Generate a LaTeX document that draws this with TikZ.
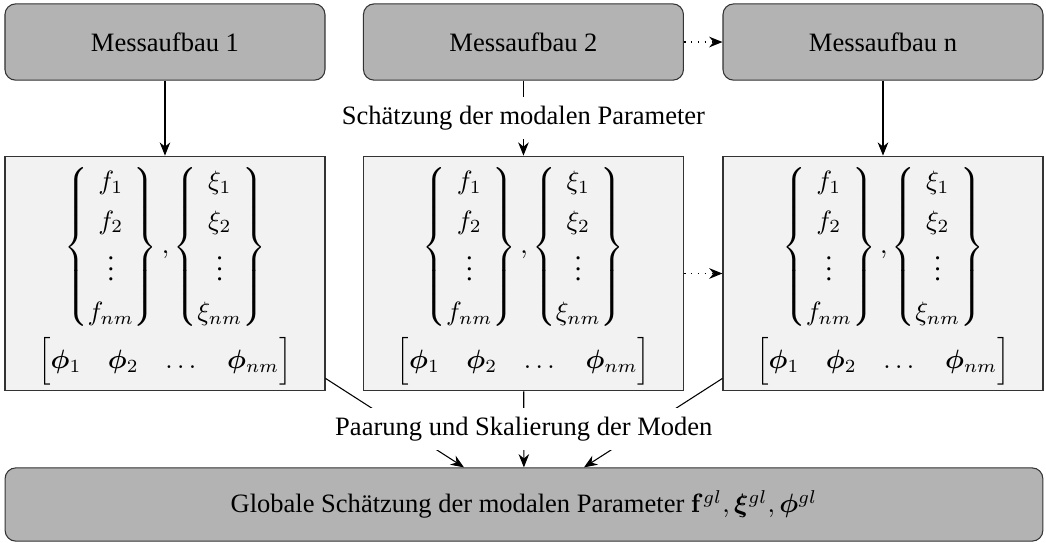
\documentclass[tikz,border=0pt]{standalone}
\usepackage{amsmath}
\usepackage{bm}
\usepackage[no-math]{fontspec}
\setmainfont{Liberation Serif}
\usepackage{tikz}
\usetikzlibrary{arrows.meta, positioning, calc}
\definecolor{setupgray}{RGB}{179, 179, 179}
\definecolor{resultgray}{RGB}{242, 242, 242}

\tikzset{
    setupbox/.style={draw=black!80, fill=setupgray, rounded corners=4pt,
        minimum width=4.24cm, minimum height=1.01cm, inner sep=0pt},
    resultbox/.style={draw=black!80, fill=resultgray,
        minimum width=4.24cm, minimum height=3.11cm, inner sep=0pt, align=center},
    globalbox/.style={draw=black!80, fill=setupgray, rounded corners=4pt,
        minimum width=13.75cm, minimum height=0.97cm, inner sep=0pt},
    arr/.style={-{Stealth[length=5pt, width=4pt]}},
    dotarr/.style={dotted, line width=0.6pt, -{Stealth[length=5pt, width=4pt]}},
}

\newcommand{\modalresult}{%
    {\renewcommand{\arraystretch}{1.25}%
    $\left\{\begin{matrix} f_1\\ f_2\\ \vdots\\ f_{nm} \end{matrix}\right\},
    \left\{\begin{matrix} \xi_1\\ \xi_2\\ \vdots\\ \xi_{nm} \end{matrix}\right\}$}\\[1pt]
    $\Bigl[\begin{matrix} \boldsymbol{\phi}_1 & \boldsymbol{\phi}_2 & \dots & \boldsymbol{\phi}_{nm} \end{matrix}\Bigr]$}

\begin{document}
\begin{tikzpicture}
    \useasboundingbox (0, 0) rectangle (13.86, -7.195);

    % Messaufbauten
    \node[setupbox] (t1) at (2.186, -0.557) {Messaufbau 1};
    \node[setupbox] (t2) at (6.936, -0.557) {Messaufbau 2};
    \node[setupbox] (t3) at (11.70, -0.557) {Messaufbau n};

    % modale Parameter je Messaufbau
    \node[resultbox] (m1) at (2.186, -3.624) {\modalresult};
    \node[resultbox] (m2) at (6.936, -3.624) {\modalresult};
    \node[resultbox] (m3) at (11.70, -3.624) {\modalresult};

    % globale Schaetzung
    \node[globalbox] (g) at (6.943, -6.685)
        {Globale Schätzung der modalen Parameter $\mathbf{f}^{gl}, \boldsymbol{\xi}^{gl}, \boldsymbol{\phi}^{gl}$};

    \draw[dotarr] (t2) -- (t3);
    \draw[dotarr] (m2) -- (m3);

    \draw[arr] (t1) -- (m1);
    \draw[arr] (t3) -- (m3);
    \draw[arr] (t2) -- node[fill=white] {Schätzung der modalen Parameter} (m2);

    \draw[arr] ([yshift=0.172cm]m1.south east) -- ([xshift=-0.795cm]g.north);
    \draw[arr] ([yshift=0.172cm]m3.south west) -- ([xshift=0.795cm]g.north);
    \draw[arr] (m2) -- node[fill=white] {Paarung und Skalierung der Moden} (g);
\end{tikzpicture}
\end{document}
